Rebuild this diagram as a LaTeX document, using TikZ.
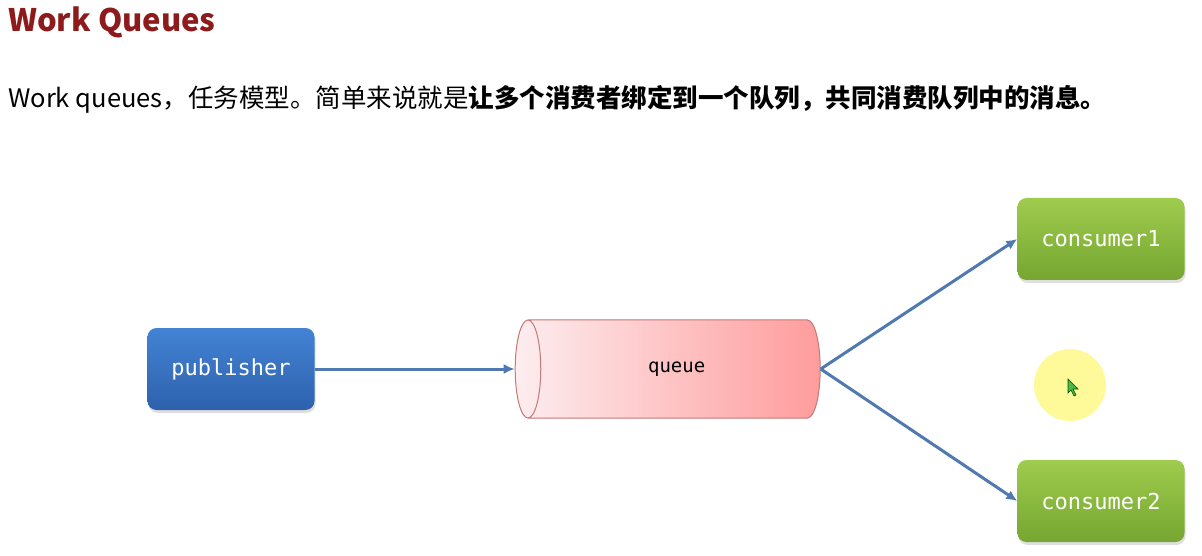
\documentclass[tikz,border=0pt]{standalone}
\usepackage{fontspec}
\setmonofont{DejaVu Sans Mono}
\newfontfamily\cjk{Noto Sans CJK SC}
\usetikzlibrary{arrows.meta,positioning,shapes.geometric,shadows}
\definecolor{titlered}{HTML}{8E1B1B}
\definecolor{linkblue}{HTML}{4F79B0}
\definecolor{pubtop}{HTML}{4383D4}
\definecolor{pubbot}{HTML}{2D61AD}
\definecolor{contop}{HTML}{9FCC4E}
\definecolor{conbot}{HTML}{76A631}
\definecolor{queueline}{HTML}{C47878}
\definecolor{queueleft}{HTML}{FDEDEF}
\definecolor{queueright}{HTML}{FF9C9C}

\begin{document}
\begin{tikzpicture}[
    x=1pt, y=1pt,
    pubbox/.style={rounded corners=9pt, minimum width=167pt, minimum height=82pt, top color=pubtop, bottom color=pubbot, text=white, font=\ttfamily\fontsize{22}{26}\selectfont, drop shadow={shadow xshift=1pt, shadow yshift=-3pt, opacity=0.25}},
    conbox/.style={rounded corners=9pt, minimum width=167pt, minimum height=82pt, top color=contop, bottom color=conbot, text=white, font=\ttfamily\fontsize{22}{26}\selectfont, drop shadow={shadow xshift=1pt, shadow yshift=-3pt, opacity=0.25}},
    queuebox/.style={cylinder, shape border rotate=180, shape aspect=1.2, minimum width=98pt, minimum height=305pt, draw=queueline, line width=1pt, left color=queueleft, right color=queueright, font=\ttfamily\fontsize{19}{23}\selectfont},
    arrow/.style={-{Latex[length=11pt, width=10pt]}, linkblue, line width=3pt}
]
\useasboundingbox (0,0) rectangle (1202,555);
% heading
\node[anchor=base west, inner sep=0, text=titlered, font=\cjk\bfseries\fontsize{31}{36}\selectfont] (title) at (8,523) {Work Queues};
\node[anchor=base west, inner sep=0, font=\cjk\fontsize{25.5}{30}\selectfont] (intro) at (8,447)
{Work queues，任务模型。简单来说就是\textbf{让多个消费者绑定到一个队列，共同消费队列中的消息。}};
% diagram
\node[pubbox] (pub) at (231,186) {publisher};
\node[queuebox, right=200pt of pub] (queue) {queue};
\node[conbox] (c1) at (1101,316) {consumer1};
\node[conbox] (c2) at (1101,54) {consumer2};
\draw[arrow] (pub) -- (queue.west);
\draw[arrow] (queue.east) -- (c1.west);
\draw[arrow] (queue.east) -- (c2.west);
% pointer
\fill[yellow!40] (1070,170) circle (36);
\filldraw[fill=green!60!black!70, draw=green!30!black, line width=0.6pt]
  (1068,176) -- (1068,162) -- (1071,165) -- (1074,159) -- (1076,160) -- (1073,166) -- (1078,166) -- cycle;
\end{tikzpicture}
\end{document}
